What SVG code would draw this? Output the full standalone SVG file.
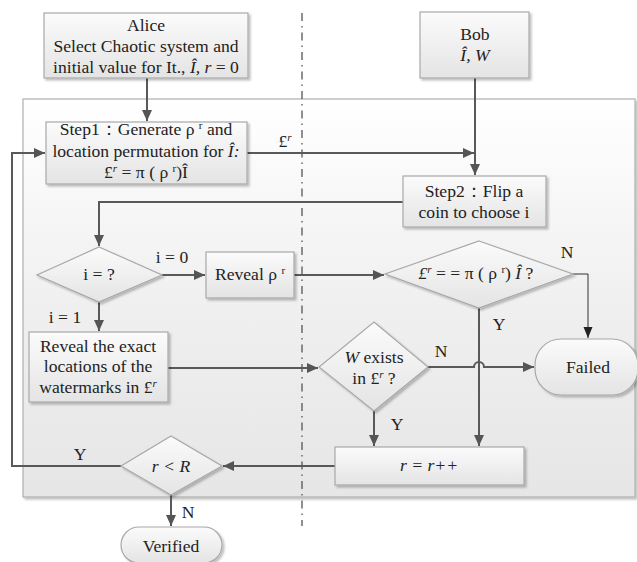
<svg xmlns="http://www.w3.org/2000/svg" width="637" height="562" viewBox="0 0 637 562" font-family="'Liberation Serif', 'Times New Roman', serif">
<defs>
<linearGradient id="gBox" x1="0" y1="0" x2="0" y2="1">
<stop offset="0" stop-color="#fbfbfb"/><stop offset="1" stop-color="#e4e4e4"/>
</linearGradient>
<linearGradient id="gBg" x1="0" y1="0" x2="0" y2="1">
<stop offset="0" stop-color="#ffffff"/><stop offset="0.5" stop-color="#f0f0f0"/><stop offset="1" stop-color="#e6e6e6"/>
</linearGradient>
<filter id="sh" x="-10%" y="-10%" width="130%" height="140%">
<feDropShadow dx="2" dy="2" stdDeviation="1.2" flood-color="#000" flood-opacity="0.25"/>
</filter>
<marker id="ah" markerWidth="12" markerHeight="12" refX="11" refY="6" orient="auto" markerUnits="userSpaceOnUse">
<path d="M0,1 L11,6 L0,11 Z" fill="#555"/>
</marker>
<marker id="ahk" markerWidth="12" markerHeight="12" refX="11" refY="6" orient="auto" markerUnits="userSpaceOnUse">
<path d="M0,1.5 L11,6 L0,10.5 Z" fill="#222"/>
</marker>
<style>
.box{fill:url(#gBox);stroke:#a8a8a8;stroke-width:1.2;filter:url(#sh)}
text{font-family:'Liberation Serif','Times New Roman',serif}
.t{font-size:17.6px;fill:#222;text-anchor:middle}
.i{font-style:italic}
.sup{font-size:11px}
.ln{fill:none;stroke:#595959;stroke-width:2}
.lk{fill:none;stroke:#333;stroke-width:1}
</style>
</defs>
<rect x="23" y="99" width="612" height="398" fill="url(#gBg)" stroke="#b0b0b0" stroke-width="1.2" filter="url(#sh)"/>
<line x1="302" y1="13" x2="302" y2="526" stroke="#555" stroke-width="1.3" stroke-dasharray="8,5,1.5,5"/>

<g id="connectors">
<path class="ln" d="M147,78 V121" marker-end="url(#ah)"/>
<path class="ln" d="M475,78 V175" marker-end="url(#ah)"/>
<path class="ln" d="M247,153 H474" marker-end="url(#ah)"/>
<path class="ln" d="M403,202 H99 V246" marker-end="url(#ah)"/>
<path class="ln" d="M162,275 H205" marker-end="url(#ah)"/>
<path class="ln" d="M294,275 H384" marker-end="url(#ah)"/>
<path class="lk" d="M573,274 H588 V338" marker-end="url(#ahk)"/>
<path class="ln" d="M99,302 V331" marker-end="url(#ah)"/>
<path class="ln" d="M168,368 H318" marker-end="url(#ah)"/>
<path class="ln" d="M428,367 H474 a5,5 0 0 1 10,0 H534" marker-end="url(#ah)"/>
<path class="ln" d="M479,308 V446" marker-end="url(#ah)"/>
<path class="ln" d="M374,411 V446" marker-end="url(#ah)"/>
<path class="ln" d="M335,466 H223" marker-end="url(#ah)"/>
<path class="ln" d="M121,466 H12 V153 H45" marker-end="url(#ah)"/>
<path class="ln" d="M171,495 V526" marker-end="url(#ah)"/>
<text class="t" x="285" y="147">£<tspan class="i sup" dy="-6">r</tspan></text>
<text class="t" x="172" y="263">i = 0</text>
<text class="t" x="65" y="323">i = 1</text>
<text class="t" x="567" y="258">N</text>
<text class="t" x="499" y="330">Y</text>
<text class="t" x="441" y="357">N</text>
<text class="t" x="397" y="430">Y</text>
<text class="t" x="80" y="460">Y</text>
<text class="t" x="188" y="518">N</text>
</g>

<g id="alice">
<rect class="box" x="44" y="13" width="204" height="65"/>
<text class="t" x="146" y="31">Alice</text>
<text class="t" x="146" y="52">Select Chaotic system and</text>
<text class="t" x="146" y="73">initial value for It., <tspan class="i">Î, r</tspan> = 0</text>
</g>

<g id="bob">
<rect class="box" x="420" y="12" width="109" height="66"/>
<text class="t" x="475" y="40">Bob</text>
<text class="t i" x="475" y="61">Î, W</text>
</g>

<g id="step1">
<rect class="box" x="46" y="122" width="201" height="62"/>
<text class="t" x="146" y="135">Step1：Generate  ρ <tspan class="sup" dy="-6">r</tspan><tspan dy="6"> and</tspan></text>
<text class="t" x="146" y="157">location permutation for <tspan class="i">Î:</tspan></text>
<text class="t" x="146" y="178">£<tspan class="i sup" dy="-6">r</tspan><tspan dy="6">  =  π ( ρ </tspan><tspan class="sup" dy="-6">r</tspan><tspan dy="6">)Î</tspan></text>
</g>

<g id="step2">
<rect class="box" x="403" y="176" width="143" height="51"/>
<text class="t" x="474" y="197">Step2：Flip a</text>
<text class="t" x="474" y="218">coin to choose i</text>
</g>

<g id="dec-i">
<polygon class="box" points="99,247 162,275 99,302 37,275"/>
<text class="t" x="99" y="280">i = ?</text>
</g>

<g id="reveal-rho">
<rect class="box" x="206" y="252" width="88" height="46"/>
<text class="t" x="250" y="280">Reveal  ρ <tspan class="sup" dy="-6">r</tspan></text>
</g>

<g id="dec-check">
<polygon class="box" points="479,241 573,274 479,308 385,274"/>
<text class="t" x="476" y="279"><tspan class="i">£</tspan><tspan class="i sup" dy="-6">r</tspan><tspan dy="6"> = = π ( ρ </tspan><tspan class="sup" dy="-6">r</tspan><tspan dy="6">) </tspan><tspan class="i">Î</tspan> ?</text>
</g>

<g id="reveal-loc">
<rect class="box" x="29" y="332" width="139" height="70"/>
<text class="t" x="98" y="352">Reveal the exact</text>
<text class="t" x="98" y="372">locations of the</text>
<text class="t" x="98" y="393">watermarks in £<tspan class="i sup" dy="-6">r</tspan></text>
</g>

<g id="dec-w">
<polygon class="box" points="374,322 428,367 374,411 319,367"/>
<text class="t" x="374" y="363"><tspan class="i">W</tspan> exists</text>
<text class="t" x="374" y="384">in £<tspan class="i sup" dy="-6">r</tspan><tspan dy="6"> ?</tspan></text>
</g>

<g id="failed">
<rect class="box" x="535" y="339" width="103" height="56" rx="26" ry="26"/>
<text class="t" x="588" y="373">Failed</text>
</g>

<g id="incr">
<rect class="box" x="335" y="447" width="189" height="38"/>
<text class="t i" x="429" y="471">r = r++</text>
</g>

<g id="dec-r">
<polygon class="box" points="171,436 222,466 171,495 121,466"/>
<text class="t i" x="171" y="472">r &lt; R</text>
</g>

<g id="verified">
<rect class="box" x="121" y="527" width="101" height="36" rx="18" ry="18"/>
<text class="t" x="171" y="552">Verified</text>
</g>
</svg>
